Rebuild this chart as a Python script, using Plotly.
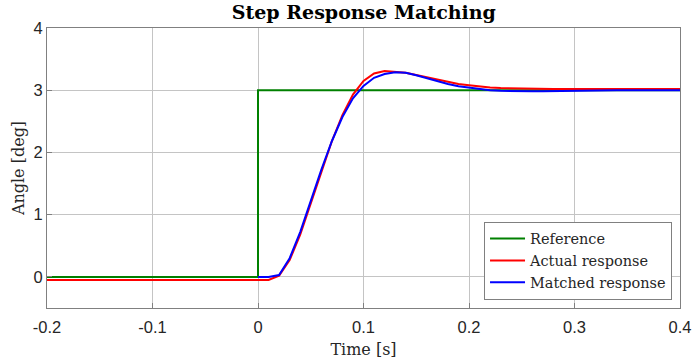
import plotly.graph_objects as go

# Reference step
t_ref = [-0.2, 0.0, 0.0, 0.4]
y_ref = [0.0, 0.0, 3.0, 3.0]

# Actual response (sampled every 0.01 s, plus initial segment)
t_act = [-0.2, 0.0, 0.01, 0.02, 0.03, 0.04, 0.05, 0.06, 0.07, 0.08, 0.09,
         0.10, 0.11, 0.12, 0.13, 0.14, 0.15, 0.16, 0.17, 0.18, 0.19,
         0.20, 0.21, 0.22, 0.23, 0.24, 0.25, 0.26, 0.28, 0.30, 0.32,
         0.34, 0.36, 0.38, 0.40]
y_act = [-0.05, -0.05, -0.05, 0.02, 0.27, 0.68, 1.18, 1.69, 2.18, 2.60, 2.93,
         3.15, 3.27, 3.31, 3.30, 3.28, 3.245, 3.21, 3.17, 3.13, 3.10,
         3.08, 3.06, 3.045, 3.035, 3.03, 3.025, 3.022, 3.02, 3.02, 3.02,
         3.02, 3.02, 3.02, 3.02]

# Matched response
t_mat = [0.0, 0.01, 0.02, 0.03, 0.04, 0.05, 0.06, 0.07, 0.08, 0.09,
         0.10, 0.11, 0.12, 0.13, 0.14, 0.15, 0.16, 0.17, 0.18, 0.19,
         0.20, 0.21, 0.22, 0.23, 0.24, 0.25, 0.26, 0.27, 0.28, 0.29,
         0.30, 0.31, 0.32, 0.34, 0.36, 0.38, 0.40]
y_mat = [0.0, 0.0, 0.03, 0.30, 0.72, 1.22, 1.72, 2.18, 2.57, 2.87,
         3.07, 3.20, 3.26, 3.29, 3.28, 3.24, 3.19, 3.15, 3.10, 3.065,
         3.04, 3.02, 3.00, 2.99, 2.985, 2.983, 2.983, 2.985, 2.988, 2.99,
         2.993, 2.995, 2.997, 2.999, 3.0, 3.0, 3.0]

x_ticks = [-0.2, -0.1, 0, 0.1, 0.2, 0.3, 0.4]
x_tick_text = ["-0.2", "-0.1", "0", "0.1", "0.2", "0.3", "0.4"]
y_ticks = [0, 1, 2, 3, 4]

serif = "DejaVu Serif, serif"
sans = "Liberation Sans, Arial, sans-serif"

fig = go.Figure()
fig.add_trace(go.Scatter(x=t_ref, y=y_ref, mode="lines", name="Reference",
                         line=dict(color="rgb(0,128,0)", width=2)))
fig.add_trace(go.Scatter(x=t_act, y=y_act, mode="lines", name="Actual response",
                         line=dict(color="rgb(255,0,0)", width=2)))
fig.add_trace(go.Scatter(x=t_mat, y=y_mat, mode="lines", name="Matched response",
                         line=dict(color="rgb(0,0,255)", width=2)))

axis_common = dict(
    showgrid=True, gridcolor="#c4c4c4", gridwidth=1,
    showline=True, linecolor="#808080", linewidth=1, mirror=True,
    ticks="inside", ticklen=5, tickcolor="#808080",
    zeroline=False, automargin=False,
    tickfont=dict(family=sans, size=16.5, color="#262626"),
)

fig.update_layout(
    width=693, height=363,
    margin=dict(l=47, r=13, t=28, b=55),
    paper_bgcolor="white", plot_bgcolor="white",
    title=dict(text="<b>Step Response Matching</b>", x=0.525, xanchor="center",
               y=0.967, yanchor="middle",
               font=dict(family=serif, size=19, color="black")),
    xaxis=dict(range=[-0.2, 0.4], tickvals=x_ticks, ticktext=x_tick_text,
               ticklabelstandoff=4,
               title=dict(text="Time [s]", standoff=9,
                          font=dict(family=serif, size=16, color="#262626")),
               **axis_common),
    yaxis=dict(range=[-0.5, 4], tickvals=y_ticks,
               title=dict(text="Angle [deg]", standoff=4,
                          font=dict(family=serif, size=16, color="#262626")),
               **axis_common),
    legend=dict(x=0.9874, y=0.03, xanchor="right", yanchor="bottom",
                bgcolor="white", bordercolor="#808080", borderwidth=1,
                font=dict(family=serif, size=14.5, color="#262626"),
                itemwidth=35, tracegroupgap=0),
    showlegend=True,
)

fig.write_html("out.html", config={"displayModeBar": False},
               post_script="document.body.style.margin='0px';document.body.style.padding='0px';")
